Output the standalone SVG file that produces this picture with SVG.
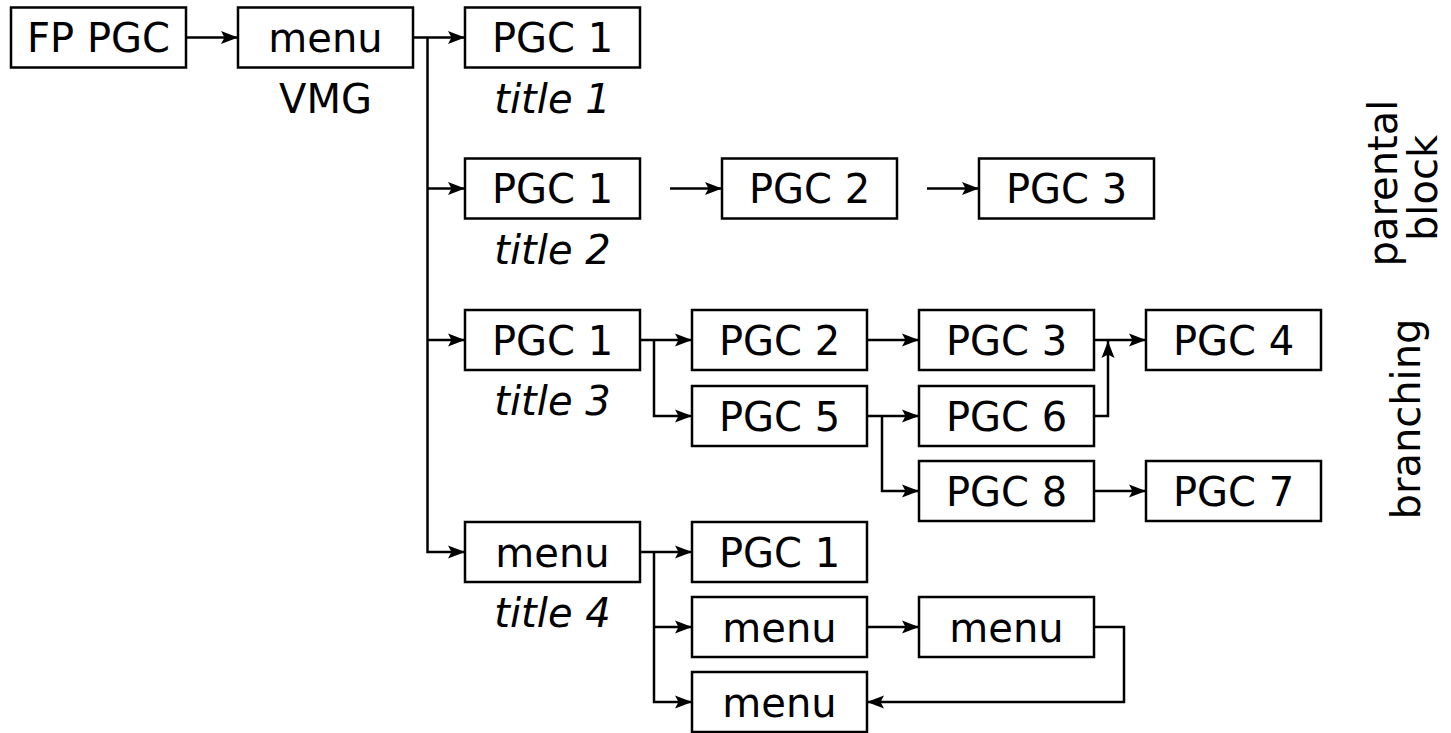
<svg xmlns="http://www.w3.org/2000/svg" width="1451" height="733" viewBox="0 0 1451 733">
  <style>
    .box rect { fill: #ffffff; stroke: #000000; stroke-width: 2.5; }
    .box text, .label { font-family: "DejaVu Sans", Verdana, sans-serif; font-size: 40px; fill: #000000; text-anchor: middle; }
    .title { font-style: italic; }
    .side { font-family: "DejaVu Sans", Verdana, sans-serif; font-size: 40px; fill: #000000; text-anchor: middle; }
    #connectors path { fill: none; stroke: #000000; stroke-width: 2.5; stroke-linejoin: miter; marker-end: url(#arrow); }
  </style>
  <defs>
    <marker id="arrow" markerUnits="userSpaceOnUse" viewBox="-19 -8 20 16" markerWidth="20" markerHeight="16" refX="0" refY="0" orient="auto">
      <path d="M0,0 L-17,-6.5 L-13.5,0 L-17,6.5 Z" fill="#000000"/>
    </marker>
  </defs>
  <rect width="1451" height="733" fill="#ffffff"/>

  <!-- connectors -->
  <g id="connectors">
    <path d="M186,37.5 H238"/>
    <path d="M413,37.5 H465"/>
    <path d="M427.5,37.5 V552 H465"/>
    <path d="M427.5,188.5 H465"/>
    <path d="M427.5,340 H465"/>
    <path d="M670,188.5 H722"/>
    <path d="M927,188.5 H979"/>
    <path d="M640,340 H692"/>
    <path d="M654,340 V416 H692"/>
    <path d="M867,340 H919"/>
    <path d="M1094,340 H1146"/>
    <path d="M1094,416 H1108 V341"/>
    <path d="M867,416 H919"/>
    <path d="M882,416 V491 H919"/>
    <path d="M1094,491 H1146"/>
    <path d="M640,552 H692"/>
    <path d="M654,552 V702 H692"/>
    <path d="M654,627 H692"/>
    <path d="M867,627 H919"/>
    <path d="M1094,627 H1124 V702 H867"/>
  </g>

  <!-- first play and video manager -->
  <g id="fp-pgc" class="box">
    <rect x="11" y="7.5" width="175" height="60"/>
    <text x="98.5" y="52">FP PGC</text>
  </g>
  <g id="vmg-menu" class="box">
    <rect x="238" y="7.5" width="175" height="60"/>
    <text x="325.5" y="52">menu</text>
    <text x="325.5" y="112.5">VMG</text>
  </g>

  <!-- title 1 -->
  <g id="t1-pgc1" class="box">
    <rect x="465" y="7.5" width="175" height="60"/>
    <text x="552.5" y="52">PGC 1</text>
    <text class="title" x="552.5" y="112.5">title 1</text>
  </g>

  <!-- title 2 -->
  <g id="t2-pgc1" class="box">
    <rect x="465" y="158.5" width="175" height="60"/>
    <text x="552.5" y="203">PGC 1</text>
    <text class="title" x="552.5" y="263.5">title 2</text>
  </g>
  <g id="t2-pgc2" class="box">
    <rect x="722" y="158.5" width="175" height="60"/>
    <text x="809.5" y="203">PGC 2</text>
  </g>
  <g id="t2-pgc3" class="box">
    <rect x="979" y="158.5" width="175" height="60"/>
    <text x="1066.5" y="203">PGC 3</text>
  </g>

  <!-- title 3 -->
  <g id="t3-pgc1" class="box">
    <rect x="465" y="310" width="175" height="60"/>
    <text x="552.5" y="354.5">PGC 1</text>
    <text class="title" x="552.5" y="415">title 3</text>
  </g>
  <g id="t3-pgc2" class="box">
    <rect x="692" y="310" width="175" height="60"/>
    <text x="779.5" y="354.5">PGC 2</text>
  </g>
  <g id="t3-pgc3" class="box">
    <rect x="919" y="310" width="175" height="60"/>
    <text x="1006.5" y="354.5">PGC 3</text>
  </g>
  <g id="t3-pgc4" class="box">
    <rect x="1146" y="310" width="175" height="60"/>
    <text x="1233.5" y="354.5">PGC 4</text>
  </g>
  <g id="t3-pgc5" class="box">
    <rect x="692" y="386" width="175" height="60"/>
    <text x="779.5" y="430.5">PGC 5</text>
  </g>
  <g id="t3-pgc6" class="box">
    <rect x="919" y="386" width="175" height="60"/>
    <text x="1006.5" y="430.5">PGC 6</text>
  </g>
  <g id="t3-pgc8" class="box">
    <rect x="919" y="461" width="175" height="60"/>
    <text x="1006.5" y="505.5">PGC 8</text>
  </g>
  <g id="t3-pgc7" class="box">
    <rect x="1146" y="461" width="175" height="60"/>
    <text x="1233.5" y="505.5">PGC 7</text>
  </g>

  <!-- title 4 -->
  <g id="t4-menu" class="box">
    <rect x="465" y="522" width="175" height="60"/>
    <text x="552.5" y="566.5">menu</text>
    <text class="title" x="552.5" y="627">title 4</text>
  </g>
  <g id="t4-pgc1" class="box">
    <rect x="692" y="522" width="175" height="60"/>
    <text x="779.5" y="566.5">PGC 1</text>
  </g>
  <g id="t4-menu-a" class="box">
    <rect x="692" y="597" width="175" height="60"/>
    <text x="779.5" y="641.5">menu</text>
  </g>
  <g id="t4-menu-b" class="box">
    <rect x="919" y="597" width="175" height="60"/>
    <text x="1006.5" y="641.5">menu</text>
  </g>
  <g id="t4-menu-c" class="box">
    <rect x="692" y="672" width="175" height="60"/>
    <text x="779.5" y="716.5">menu</text>
  </g>

  <!-- side captions -->
  <g id="caption-parental">
    <text class="side" transform="translate(1397,183) rotate(-90)">parental</text>
    <text class="side" transform="translate(1437,188) rotate(-90)">block</text>
  </g>
  <g id="caption-branching">
    <text class="side" transform="translate(1420,419) rotate(-90)">branching</text>
  </g>
</svg>
